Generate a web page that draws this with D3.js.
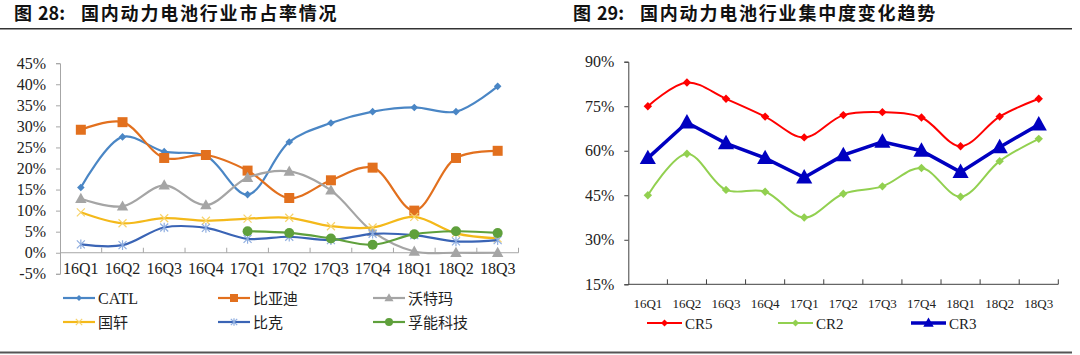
<!DOCTYPE html>
<html>
<head>
<meta charset="utf-8">
<script src="https://cdn.jsdelivr.net/npm/d3@7/dist/d3.min.js"></script>
<style>
  html, body { margin: 0; padding: 0; background: #fff; }
  svg { display: block; }
</style>
</head>
<body>
<svg id="chart" width="1080" height="355"></svg>
<script>
// ---------- DATA ----------
const quarters = ["16Q1","16Q2","16Q3","16Q4","17Q1","17Q2","17Q3","17Q4","18Q1","18Q2","18Q3"];

// Figure 28 – market share (%)
const catl    = [15.5, 27.5, 24.0, 23.0, 13.8, 26.3, 30.8, 33.5, 34.5, 33.5, 39.5];
const byd     = [29.2, 31.0, 22.5, 23.2, 19.5, 13.0, 17.2, 20.2, 10.0, 22.5, 24.2];
const wotema  = [12.8, 11.0, 16.0, 11.3, 17.8, 19.3, 14.8, 5.0, 0.3, 0.0, 0.0];
const guoxuan = [9.6, 7.0, 8.2, 7.6, 8.1, 8.3, 6.3, 6.0, 8.5, 4.6, 3.4];
const bike    = [2.0, 1.8, 6.0, 5.9, 3.3, 3.8, 3.0, 4.5, 4.2, 2.7, 3.0];
const funeng  = [null, null, null, null, 5.1, 4.7, 3.4, 1.9, 4.4, 5.1, 4.7];
const leftTicks = [-5, 0, 5, 10, 15, 20, 25, 30, 35, 40, 45];

// Figure 29 – concentration (%)
const cr5 = [75.0, 83.0, 77.5, 71.5, 64.5, 72.0, 73.0, 71.2, 61.5, 71.5, 77.5];
const cr2 = [45.0, 59.0, 46.8, 46.2, 37.5, 45.5, 48.0, 54.2, 44.5, 56.5, 64.0];
const cr3 = [57.5, 69.5, 62.5, 57.5, 51.0, 58.5, 63.0, 60.0, 52.8, 61.2, 68.8];
const rightTicks = [15, 30, 45, 60, 75, 90];

// ---------- HELPERS ----------
const svg = d3.select("#chart");
const serif = "'Liberation Serif','Times New Roman',serif";
const cjk = "'Noto Sans CJK SC','Noto Sans',sans-serif";

function markerPath(type, r) {
  switch (type) {
    case "diamond": return `M0,${-r}L${r},0L0,${r}L${-r},0Z`;
    case "square": return `M${-r},${-r}H${r}V${r}H${-r}Z`;
    case "triangle": return `M0,${-r}L${r*0.95},${r*0.7}L${-r*0.95},${r*0.7}Z`;
    case "circle": return d3.arc()({innerRadius:0, outerRadius:r, startAngle:0, endAngle:2*Math.PI});
    case "x": return `M${-r},${-r}L${r},${r}M${-r},${r}L${r},${-r}`;
    case "asterisk": return `M${-r},${-r}L${r},${r}M${-r},${r}L${r},${-r}M0,${-r*1.2}V${r*1.2}`;
  }
}
function drawMarker(g, type, r, color, x, y, strokeColor) {
  const stroked = (type === "x" || type === "asterisk");
  g.append("path")
    .attr("d", markerPath(type, r))
    .attr("transform", `translate(${x},${y})`)
    .attr("fill", stroked ? "none" : color)
    .attr("stroke", stroked ? (strokeColor || color) : "none")
    .attr("stroke-width", stroked ? 1.2 : 0);
}

// ---------- TITLES & RULES ----------
function title(x, num, text) {
  const t = svg.append("text").attr("y", 19.5).attr("font-family", cjk)
    .attr("font-weight", "bold").attr("font-size", 18).attr("fill", "#111");
  t.append("tspan").attr("x", x).text("图");
  t.append("tspan").attr("x", x + 24).text(num + ":");
  t.append("tspan").attr("x", x + 67).attr("letter-spacing", 1.8).text(text);
}
title(14, "28", "国内动力电池行业市占率情况");
title(573, "29", "国内动力电池行业集中度变化趋势");

svg.append("line").attr("x1", 0).attr("x2", 1072).attr("y1", 28.7).attr("y2", 28.7)
  .attr("stroke", "#333").attr("stroke-width", 1.5);
svg.append("line").attr("x1", 0).attr("x2", 1072).attr("y1", 352.5).attr("y2", 352.5)
  .attr("stroke", "#555").attr("stroke-width", 2);

// ---------- LEFT CHART ----------
{
  const g = svg.append("g");
  const x = d3.scaleBand().domain(quarters).range([60, 518.5]);
  const y = d3.scaleLinear().domain([-5, 45]).range([273.8, 63.2]);
  const axisColor = "#A6A6A6";

  // y axis
  const yAxis = d3.axisLeft(y).tickValues(leftTicks).tickSize(4).tickFormat(d => d + "%");
  const ya = g.append("g").attr("transform", "translate(60,0)").call(yAxis);
  ya.select(".domain").attr("stroke", axisColor);
  ya.selectAll(".tick line").attr("stroke", axisColor);
  ya.selectAll(".tick text").attr("font-family", serif).attr("font-size", 16)
    .attr("fill", "#222").attr("x", -14);

  // x axis at 0
  g.append("line").attr("x1", 60).attr("x2", 518.5).attr("y1", y(0)).attr("y2", y(0))
    .attr("stroke", axisColor).attr("stroke-width", 1);
  quarters.forEach((q, i) => {
    const bx = x(q) + x.bandwidth();
    g.append("line").attr("x1", bx).attr("x2", bx).attr("y1", y(0)).attr("y2", y(0) - 5)
      .attr("stroke", axisColor);
    g.append("text").attr("x", x(q) + x.bandwidth() / 2).attr("y", 273.5)
      .attr("text-anchor", "middle").attr("font-family", serif).attr("font-size", 16)
      .attr("fill", "#222").text(q);
  });

  const series = [
    {name: "CATL", data: catl, color: "#4A86C5", marker: "diamond", r: 3.8},
    {name: "比亚迪", data: byd, color: "#E2701E", marker: "square", r: 5},
    {name: "沃特玛", data: wotema, color: "#A5A5A5", marker: "triangle", r: 6},
    {name: "国轩", data: guoxuan, color: "#F4B91A", marker: "x", r: 4, mstroke: "#F7D36A"},
    {name: "比克", data: bike, color: "#3A64B5", marker: "asterisk", r: 4, mstroke: "#8FAEE0"},
    {name: "孚能科技", data: funeng, color: "#5FA03C", marker: "circle", r: 5}
  ];
  const cx = (d, i) => x(quarters[i]) + x.bandwidth() / 2;
  series.forEach(s => {
    const line = d3.line().defined(d => d !== null).x(cx).y(d => y(d))
      .curve(d3.curveCatmullRom.alpha(0.5));
    g.append("path").attr("d", line(s.data)).attr("fill", "none")
      .attr("stroke", s.color).attr("stroke-width", 2.2);
    s.data.forEach((d, i) => {
      if (d !== null) drawMarker(g, s.marker, s.r, s.color, cx(d, i), y(d), s.mstroke);
    });
  });

  // legend
  const cols = [63, 218, 373];
  const rows = [298, 322];
  series.forEach((s, i) => {
    const lx = cols[i % 3], ly = rows[Math.floor(i / 3)];
    g.append("line").attr("x1", lx).attr("x2", lx + 32).attr("y1", ly).attr("y2", ly)
      .attr("stroke", s.color).attr("stroke-width", 2.2);
    drawMarker(g, s.marker, s.r * 0.8, s.color, lx + 16, ly, s.mstroke);
    g.append("text").attr("x", lx + 35).attr("y", ly + 5.5)
      .attr("font-family", s.name === "CATL" ? serif : cjk)
      .attr("font-size", s.name === "CATL" ? 16 : 15).attr("fill", "#222").text(s.name);
  });
}

// ---------- RIGHT CHART ----------
{
  const g = svg.append("g");
  const x = d3.scaleBand().domain(quarters).range([628.3, 1058.3]);
  const y = d3.scaleLinear().domain([15, 90]).range([284.3, 61.7]);
  const axisColor = "#404040";

  const yAxis = d3.axisLeft(y).tickValues(rightTicks).tickSize(4).tickFormat(d => d + "%");
  const ya = g.append("g").attr("transform", "translate(628.3,0)").call(yAxis);
  ya.select(".domain").attr("stroke", axisColor);
  ya.selectAll(".tick line").attr("stroke", axisColor);
  ya.selectAll(".tick text").attr("font-family", serif).attr("font-size", 16)
    .attr("fill", "#222").attr("x", -14);

  g.append("line").attr("x1", 628.3).attr("x2", 1058.3).attr("y1", y(15)).attr("y2", y(15))
    .attr("stroke", axisColor);
  quarters.forEach((q, i) => {
    const bx = x(q) + x.bandwidth();
    g.append("line").attr("x1", bx).attr("x2", bx).attr("y1", y(15)).attr("y2", y(15) - 5)
      .attr("stroke", axisColor);
    g.append("text").attr("x", x(q) + x.bandwidth() / 2).attr("y", 307.5)
      .attr("text-anchor", "middle").attr("font-family", serif).attr("font-size", 13)
      .attr("fill", "#222").text(q);
  });

  const series = [
    {name: "CR5", data: cr5, color: "#FF0000", marker: "diamond", r: 4.2, w: 2, curve: d3.curveCatmullRom.alpha(0.5)},
    {name: "CR2", data: cr2, color: "#92D050", marker: "diamond", r: 4.2, w: 2, curve: d3.curveCatmullRom.alpha(0.5)},
    {name: "CR3", data: cr3, color: "#0000C0", marker: "triangle", r: 8.5, w: 3.5, curve: d3.curveLinear}
  ];
  const cx = (d, i) => x(quarters[i]) + x.bandwidth() / 2;
  series.forEach(s => {
    const line = d3.line().x(cx).y(d => y(d)).curve(s.curve);
    g.append("path").attr("d", line(s.data)).attr("fill", "none")
      .attr("stroke", s.color).attr("stroke-width", s.w);
    s.data.forEach((d, i) => drawMarker(g, s.marker, s.r, s.color, cx(d, i), y(d)));
  });

  const cols = [647, 778, 911];
  series.forEach((s, i) => {
    const lx = cols[i], ly = 323;
    g.append("line").attr("x1", lx).attr("x2", lx + 35).attr("y1", ly).attr("y2", ly)
      .attr("stroke", s.color).attr("stroke-width", s.w);
    drawMarker(g, s.marker, s.marker === "triangle" ? 5.5 : 3.5, s.color, lx + 17.5, ly);
    g.append("text").attr("x", lx + 38).attr("y", ly + 5.5)
      .attr("font-family", serif).attr("font-size", 15).attr("fill", "#222").text(s.name);
  });
}
</script>
</body>
</html>
